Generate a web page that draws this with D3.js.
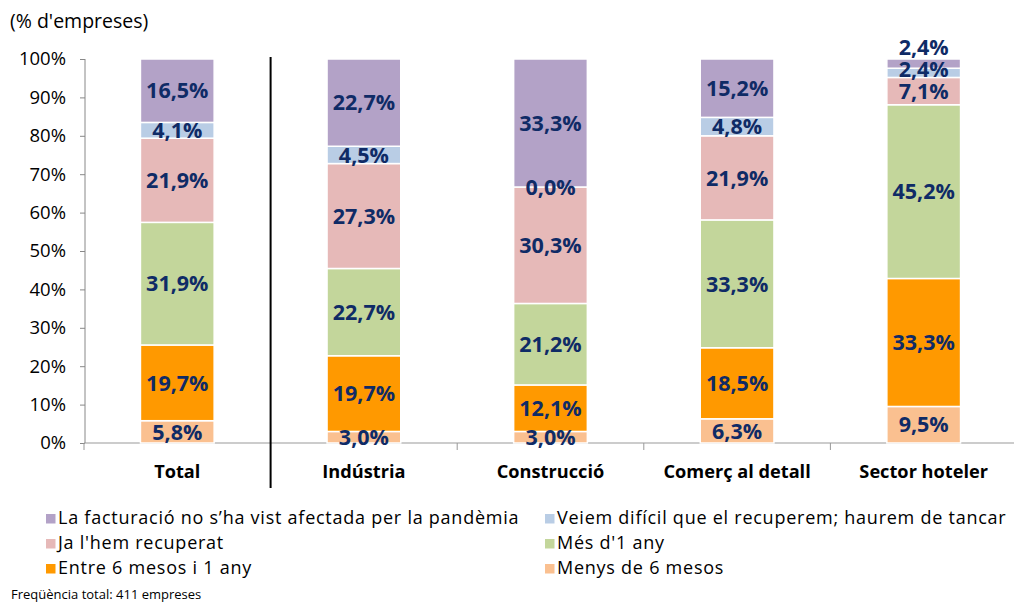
<!DOCTYPE html>
<html><head><meta charset="utf-8">
<script src="https://cdn.jsdelivr.net/npm/d3@7"></script>
<style>body{margin:0;background:#fff;} svg{display:block;font-family:"Open Sans", sans-serif;}</style>
</head><body>
<svg id="c" width="1014" height="604"></svg>
<script>
const categories = ["Total","Indústria","Construcció","Comerç al detall","Sector hoteler"];
const seriesNames = ["Menys de 6 mesos","Entre 6 mesos i 1 any","Més d'1 any","Ja l'hem recuperat","Veiem difícil que el recuperem; haurem de tancar","La facturació no s’ha vist afectada per la pandèmia"];
const menys6 = [5.8, 3.0, 3.0, 6.3, 9.5];
const entre6i1 = [19.7, 19.7, 12.1, 18.5, 33.3];
const mesUnAny = [31.9, 22.7, 21.2, 33.3, 45.2];
const recuperat = [21.9, 27.3, 30.3, 21.9, 7.1];
const tancar = [4.1, 4.5, 0.0, 4.8, 2.4];
const noAfectada = [16.5, 22.7, 33.3, 15.2, 2.4];
const colors = ["#FAC090","#FF9900","#C3D69B","#E6B9B8","#B9CDE5","#B3A2C7"];
const yTicks = [0,10,20,30,40,50,60,70,80,90,100];

const series = [menys6, entre6i1, mesUnAny, recuperat, tancar, noAfectada];
const svg = d3.select("#c");
const x = d3.scaleBand().domain(categories).range([84, 1017]).paddingInner(0).paddingOuter(0);
const y = d3.scaleLinear().domain([0,100]).range([443, 59]);
const barW = x.bandwidth()*0.395;

// y axis
const ya = svg.append("g").attr("transform","translate(85,0)").call(d3.axisLeft(y).tickValues(yTicks).tickFormat(d=>d+"%").tickSize(5).tickPadding(14));
ya.select(".domain").attr("stroke","#888").attr("d","M0,59V443");
ya.selectAll(".tick line").attr("stroke","#888");
ya.selectAll("text").attr("font-size",18.5).attr("fill","#000").attr("font-family","'Open Sans', sans-serif");

// x axis
svg.append("line").attr("x1",84).attr("x2",1017).attr("y1",443).attr("y2",443).attr("stroke","#999").attr("stroke-width",1.2);
categories.forEach((c,i)=>{
  if(i===1) return;
  svg.append("line").attr("x1",x(c)).attr("x2",x(c)).attr("y1",443).attr("y2",450).attr("stroke","#999");
});
svg.append("line").attr("x1",x.range()[1]-0.5).attr("x2",x.range()[1]-0.5).attr("y1",443).attr("y2",450).attr("stroke","#999");
svg.append("g").selectAll("text").data(categories).join("text")
  .attr("x",d=>x(d)+x.bandwidth()/2).attr("y",478).attr("text-anchor","middle")
  .attr("font-size",18.2).attr("font-weight","bold").text(d=>d);

// bars
const labels = [];
categories.forEach((c,ci)=>{
  const vals = series.map(s=>s[ci]);
  const tot = d3.sum(vals);
  let acc = 0;
  let prevY = Infinity;
  vals.forEach((v,si)=>{
    const y0 = acc/tot*100, y1 = (acc+v)/tot*100;
    acc += v;
    const cx = x(c)+x.bandwidth()/2;
    svg.append("rect").attr("x",cx-barW/2).attr("width",barW)
      .attr("y",y(y1)).attr("height",Math.max(0,y(y0)-y(y1)))
      .attr("fill",colors[si]).attr("stroke","#fff").attr("stroke-width",1.5);
    let ly = (y(y0)+y(y1))/2;
    if (ly > prevY - 22) ly = prevY - 22;
    prevY = ly;
    labels.push({cx, ly, t: v.toFixed(1).replace(".",",")+"%"});
  });
});
svg.append("g").selectAll("text").data(labels).join("text")
  .attr("x",d=>d.cx).attr("y",d=>d.ly).attr("dy","0.36em")
  .attr("text-anchor","middle").attr("font-size",21.5).attr("font-weight","bold")
  .attr("fill","#0F2B66").text(d=>d.t);

// separator line
svg.append("line").attr("x1",x(categories[1])).attr("x2",x(categories[1])).attr("y1",57).attr("y2",488).attr("stroke","#000").attr("stroke-width",2);

// title
svg.append("text").attr("x",10).attr("y",28).attr("font-size",19.5).text("(% d'empreses)");

// legend
const legendOrder = [5,4,3,2,1,0];
legendOrder.forEach((si,k)=>{
  const col = k%2, row = Math.floor(k/2);
  const lx = col===0 ? 46 : 545, ly = 524 + row*25;
  svg.append("rect").attr("x",lx).attr("y",ly-10).attr("width",9.5).attr("height",9.5).attr("fill",colors[si]);
  svg.append("text").attr("x",lx+12).attr("y",ly).attr("font-size",18).attr("letter-spacing",0.75).text(seriesNames[si]);
});
svg.append("text").attr("x",11).attr("y",599).attr("font-size",13).text("Freqüència total: 411 empreses");
</script>
</body></html>
